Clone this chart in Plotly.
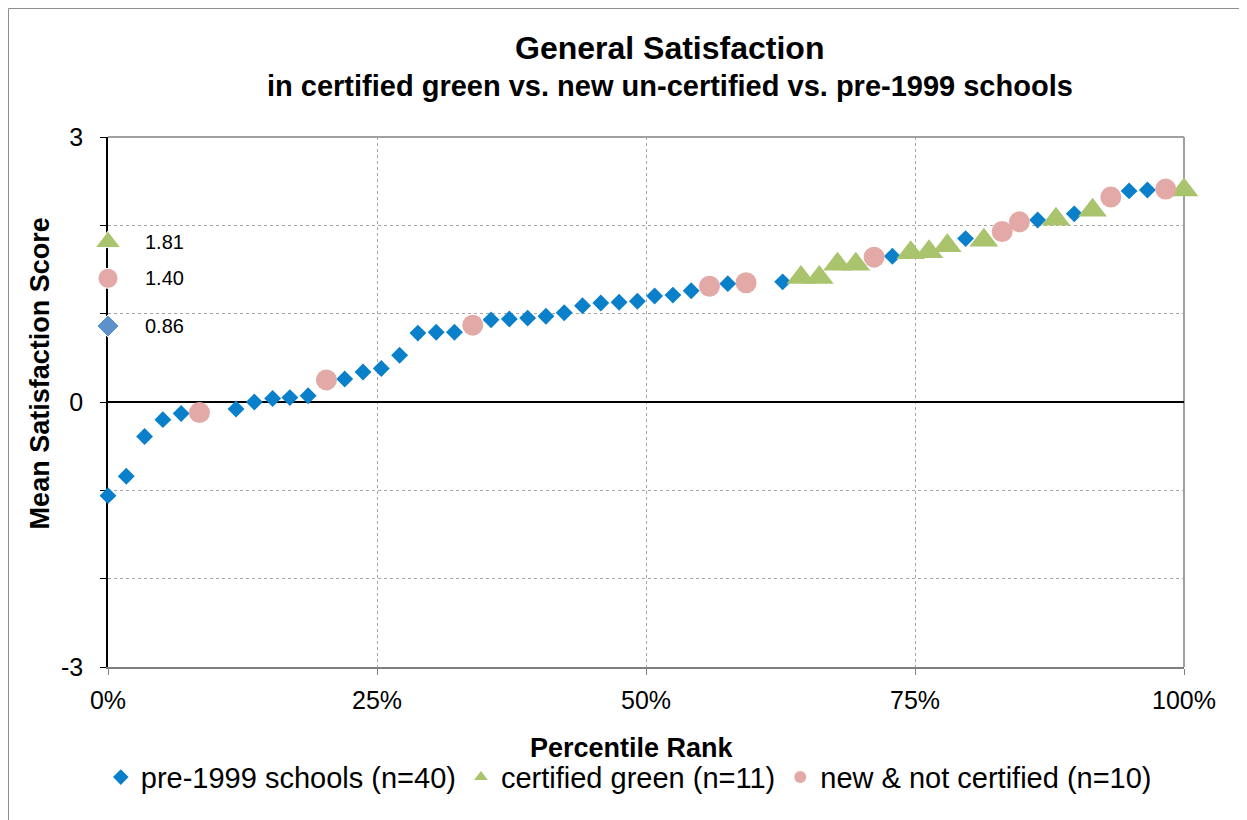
import plotly.graph_objects as go

FONT = "Liberation Sans, Arial, sans-serif"

# ---- data (percentile rank in %, mean satisfaction score) ----
pre_x = [0, 1.7, 3.4, 5.1, 6.8, 11.9, 13.6, 15.3, 16.9, 18.6, 22.0, 23.7, 25.4, 27.1,
         28.8, 30.5, 32.2, 35.6, 37.3, 39.0, 40.7, 42.4, 44.1, 45.8, 47.5, 49.2, 50.8,
         52.5, 54.2, 57.6, 62.7, 72.9, 79.7, 86.4, 89.8, 94.9, 96.6]
pre_y = [-1.06, -0.84, -0.39, -0.20, -0.13, -0.08, 0.00, 0.04, 0.05, 0.07, 0.26, 0.34, 0.38, 0.53,
         0.78, 0.79, 0.79, 0.93, 0.94, 0.95, 0.97, 1.01, 1.09, 1.12, 1.13, 1.14, 1.20,
         1.21, 1.26, 1.34, 1.36, 1.65, 1.85, 2.06, 2.13, 2.39, 2.40]

green_x = [64.4, 66.1, 67.8, 69.5, 74.6, 76.3, 78.0, 81.4, 88.1, 91.5, 100]
green_y = [1.41, 1.41, 1.56, 1.56, 1.69, 1.70, 1.77, 1.83, 2.07, 2.17, 2.40]

new_x = [8.5, 20.3, 33.9, 55.9, 59.3, 71.2, 83.1, 84.7, 93.2, 98.3]
new_y = [-0.12, 0.25, 0.87, 1.31, 1.35, 1.64, 1.93, 2.04, 2.32, 2.41]

series_names = ["pre-1999 schools (n=40)", "certified green (n=11)", "new & not certified (n=10)"]

mean_values = [1.81, 1.40, 0.86]
mean_labels = ["1.81", "1.40", "0.86"]

x_ticks = [0, 25, 50, 75, 100]
x_tick_text = ["0%", "25%", "50%", "75%", "100%"]
y_ticks = [-3, 0, 3]
y_tick_text = ["-3", "0", "3"]

BLUE = "#0A80CA"
GREEN = "#A9C46D"
PINK = "#E3A9A7"
MEAN_BLUE = "#5C91CC"
GRID = "#A6A6A6"

fig = go.Figure()
fig.add_trace(go.Scatter(x=pre_x, y=pre_y, mode="markers", name=series_names[0],
                         marker=dict(symbol="diamond", size=13, color=BLUE, opacity=1),
                         cliponaxis=False))
fig.add_trace(go.Scatter(x=green_x, y=green_y, mode="markers", name=series_names[1],
                         marker=dict(symbol="triangle-up", size=25, color=GREEN, opacity=1),
                         cliponaxis=False))
fig.add_trace(go.Scatter(x=new_x, y=new_y, mode="markers", name=series_names[2],
                         marker=dict(symbol="circle", size=21, color=PINK, opacity=1),
                         cliponaxis=False))

# group means drawn at 0%
fig.add_trace(go.Scatter(x=[0, 0, 0], y=mean_values, mode="markers", showlegend=False,
                         marker=dict(symbol=["triangle-up", "circle", "diamond"],
                                     size=[22, 20, 17], color=[GREEN, PINK, MEAN_BLUE],
                                     opacity=1),
                         cliponaxis=False))

annotations = []
for v, t in zip(mean_values, mean_labels):
    annotations.append(dict(x=0, y=v, xref="x", yref="y", text=t, showarrow=False,
                            xanchor="left", yanchor="middle", xshift=35,
                            font=dict(family=FONT, size=20, color="#000000")))

annotations += [
    dict(text="<b>General Satisfaction</b>", x=0.5223, y=1.168, xref="paper", yref="paper",
         showarrow=False, xanchor="center", yanchor="middle",
         font=dict(family=FONT, size=32, color="#000000")),
    dict(text="<b>in certified green vs. new un-certified vs. pre-1999 schools</b>", x=0.5223, y=1.096,
         xref="paper", yref="paper", showarrow=False, xanchor="center", yanchor="middle",
         font=dict(family=FONT, size=29, color="#000000")),
    dict(text="<b>Mean Satisfaction Score</b>", x=-0.0632, y=0.554, xref="paper", yref="paper",
         showarrow=False, textangle=-90, xanchor="center", yanchor="middle",
         font=dict(family=FONT, size=27, color="#000000")),
    dict(text="<b>Percentile Rank</b>", x=0.487, y=-0.153, xref="paper", yref="paper",
         showarrow=False, xanchor="center", yanchor="middle",
         font=dict(family=FONT, size=27, color="#000000")),
]

shapes = [
    # plot-area frame (top / right)
    dict(type="line", xref="paper", yref="paper", x0=0, x1=1, y0=1, y1=1,
         line=dict(color="#A0A0A0", width=2), layer="below"),
    dict(type="line", xref="paper", yref="paper", x0=1, x1=1, y0=0, y1=1,
         line=dict(color="#A0A0A0", width=2), layer="below"),
    # outer chart border
    dict(type="line", xref="paper", yref="paper", x0=-0.0925, x1=1.06, y0=1.2425, y1=1.2425,
         line=dict(color="#8C8C8C", width=1)),
    dict(type="line", xref="paper", yref="paper", x0=-0.0925, x1=-0.0925, y0=1.2425, y1=-0.3,
         line=dict(color="#8C8C8C", width=1)),
]

# the page body has an 8px margin: size/margins compensate so the plot area lands where it should
fig.update_layout(
    width=1239, height=812,
    margin=dict(l=100, r=63, t=129, b=153, pad=0),
    paper_bgcolor="white", plot_bgcolor="white",
    font=dict(family=FONT, color="#000000"),
    showlegend=True,
    legend=dict(orientation="h", x=0.484, xanchor="center", y=-0.208, yanchor="middle",
                font=dict(family=FONT, size=29, color="#000000"), itemsizing="constant",
                bgcolor="rgba(0,0,0,0)", tracegroupgap=0),
    annotations=annotations,
    shapes=shapes,
)

fig.update_xaxes(
    range=[0, 100], tickmode="array", tickvals=x_ticks, ticktext=x_tick_text,
    showgrid=True, gridcolor=GRID, griddash="dot", gridwidth=1,
    showline=True, linecolor="#7F7F7F", linewidth=2,
    ticks="outside", ticklen=6, tickcolor="#7F7F7F", tickwidth=1,
    tickfont=dict(family=FONT, size=25, color="#000000"),
    ticklabelstandoff=4, zeroline=False, layer="below traces",
)
fig.update_yaxes(
    range=[-3, 3], tickmode="array", tickvals=y_ticks, ticktext=y_tick_text,
    showgrid=False,
    minor=dict(tickmode="array", tickvals=[-2, -1, 1, 2], ticks="outside", ticklen=6,
               tickcolor="#000000", showgrid=True, gridcolor=GRID, griddash="dot", gridwidth=1),
    showline=True, linecolor="#000000", linewidth=1.5,
    ticks="outside", ticklen=6, tickcolor="#000000", tickwidth=1,
    tickfont=dict(family=FONT, size=25, color="#000000"),
    ticklabelstandoff=12,
    zeroline=True, zerolinecolor="#000000", zerolinewidth=1.5, layer="below traces",
)

fig.write_html("out.html")
